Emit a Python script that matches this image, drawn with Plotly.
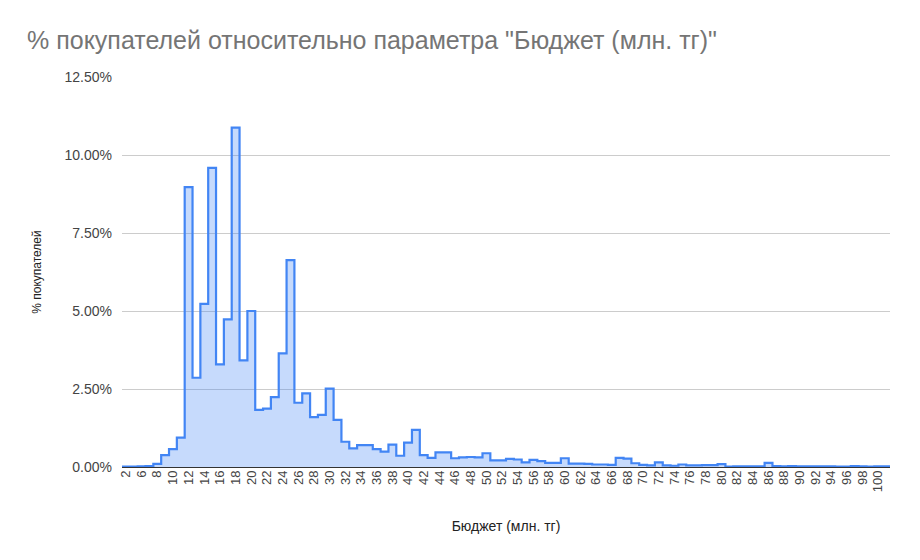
import plotly.graph_objects as go

categories = [2, 4, 6, 7, 8, 9, 10, 11, 12, 13, 14, 15, 16, 17, 18, 19, 20, 21, 22, 23,
              24, 25, 26, 27, 28, 29, 30, 31, 32, 33, 34, 35, 36, 37, 38, 39, 40, 41, 42, 43,
              44, 45, 46, 47, 48, 49, 50, 51, 52, 53, 54, 55, 56, 57, 58, 59, 60, 61, 62, 63,
              64, 65, 66, 67, 68, 69, 70, 71, 72, 73, 74, 75, 76, 77, 78, 79, 80, 81, 82, 83,
              84, 85, 86, 87, 88, 89, 90, 91, 92, 93, 94, 95, 96, 97, 98, 99, 100, 101]

share_pct = [0.01, 0.01, 0.02, 0.03, 0.10, 0.38, 0.57, 0.94, 8.97, 2.86,
             5.23, 9.59, 3.29, 4.73, 10.88, 3.42, 5.00, 1.83, 1.87, 2.24,
             3.64, 6.63, 2.06, 2.36, 1.60, 1.67, 2.51, 1.51, 0.81, 0.60,
             0.70, 0.70, 0.57, 0.49, 0.72, 0.36, 0.78, 1.19, 0.38, 0.29,
             0.47, 0.47, 0.28, 0.31, 0.32, 0.31, 0.44, 0.21, 0.21, 0.26,
             0.24, 0.15, 0.23, 0.19, 0.13, 0.13, 0.28, 0.11, 0.11, 0.10,
             0.08, 0.08, 0.07, 0.29, 0.27, 0.12, 0.07, 0.05, 0.15, 0.05,
             0.04, 0.08, 0.05, 0.05, 0.06, 0.06, 0.09, 0.01, 0.02, 0.02,
             0.02, 0.02, 0.13, 0.03, 0.02, 0.03, 0.02, 0.02, 0.02, 0.02,
             0.02, 0.01, 0.01, 0.03, 0.02, 0.01, 0.02, 0.02]

y_ticks = [0, 2.5, 5, 7.5, 10, 12.5]

n = len(categories)
# each category occupies a band [i-0.5, i+0.5]; step line drawn with hv shape
xs = [i - 0.5 for i in range(n + 1)]
ys = share_pct + [share_pct[-1]]

FONT = "Arial, 'Liberation Sans', sans-serif"

fig = go.Figure()
fig.add_trace(go.Scatter(
    x=xs, y=ys, mode="lines",
    line=dict(shape="hv", color="#4285F4", width=2.2),
    fill="tozeroy", fillcolor="rgba(66,133,244,0.30)",
    hoverinfo="skip", showlegend=False,
))

tick_idx = list(range(0, n, 2))
fig.update_layout(
    width=920, height=560,
    paper_bgcolor="white", plot_bgcolor="white",
    margin=dict(l=114, r=38, t=69, b=101),
    title=dict(text='% покупателей относительно параметра "Бюджет (млн. тг)"',
               x=0.0207, xanchor="left", y=0.943, yanchor="middle",
               font=dict(family=FONT, size=25, color="#757575")),
    font=dict(family=FONT, size=13, color="#444444"),
    xaxis=dict(
        range=[-0.5, n - 0.5],
        tickmode="array",
        tickvals=tick_idx,
        ticktext=[str(categories[i]) for i in tick_idx],
        tickangle=-90,
        showgrid=False, zeroline=False,
        ticks="", showline=False,
        tickfont=dict(family=FONT, size=13, color="#444444"),
        title=dict(text="Бюджет (млн. тг)", font=dict(family=FONT, size=14, color="#222222"), standoff=29),
    ),
    yaxis=dict(
        range=[0, 12.5],
        tickmode="array",
        tickvals=y_ticks,
        ticktext=[f"{v:.2f}%" for v in y_ticks],
        showgrid=True, gridcolor="#cccccc", gridwidth=1,
        zeroline=True, zerolinecolor="#333333", zerolinewidth=1,
        ticks="", showline=False,
        ticklabelstandoff=9,
        tickfont=dict(family=FONT, size=14, color="#444444"),
        title=dict(text="% покупателей", font=dict(family=FONT, size=12, color="#222222"), standoff=20),
    ),
)

fig.write_html("out.html")
